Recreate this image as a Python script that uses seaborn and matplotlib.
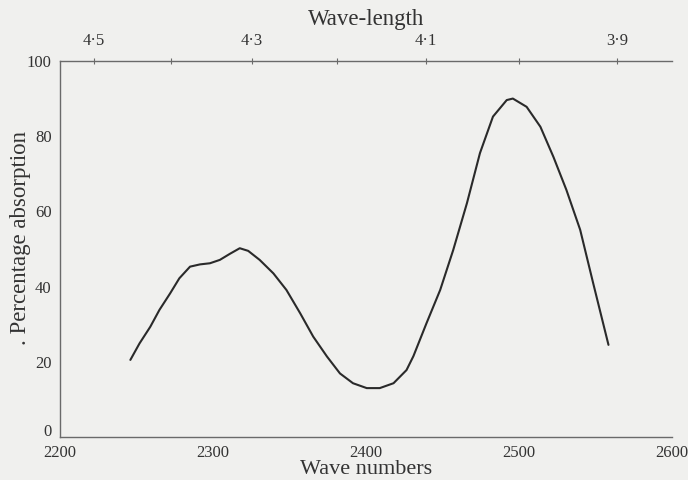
import numpy as np
import pandas as pd
import matplotlib
matplotlib.use("Agg")
import matplotlib.pyplot as plt
import matplotlib.transforms as mtransforms
import seaborn as sns
from matplotlib.ticker import FixedLocator, MultipleLocator

# Absorption band
wave_numbers = [2246, 2252, 2259, 2265, 2272, 2278, 2285, 2291.5, 2298,
                2304.5, 2311, 2317.5, 2323, 2330.5, 2339.5, 2348, 2357,
                2365.5, 2374.5, 2383, 2391.5, 2400.5, 2409, 2418, 2426.5,
                2431, 2439.5, 2448.5, 2457, 2466, 2474.5, 2483, 2492, 2496,
                2505, 2514, 2522.5, 2531, 2540, 2548.5, 2558.5]
absorption = [20.5, 24.9, 29.3, 33.8, 38.2, 42.2, 45.3, 45.9, 46.2,
              47.1, 48.7, 50.2, 49.5, 47.1, 43.5, 39.1, 32.9,
              26.7, 21.4, 16.9, 14.3, 13.0, 13.0, 14.3, 17.8,
              21.5, 30.2, 39.1, 49.7, 62.2, 75.5, 85.2, 89.6, 90.0,
              87.8, 82.5, 74.5, 65.7, 55.1, 40.9, 24.5]

x_ticks = [2200, 2300, 2400, 2500, 2600]
y_ticks = [0, 20, 40, 60, 80, 100]
wl_ticks = [4.5, 4.3, 4.1, 3.9]
wl_minor = [4.4, 4.2, 4.0]
wl_labels = ["4·5", "4·3", "4·1", "3·9"]

sns.set_theme(style="white")
plt.rcParams["font.family"] = ["Liberation Serif", "DejaVu Serif"]

bg = "#f0f0ee"
ink = "#2a2a2a"
axis_col = "#6a6a6a"
text_col = "#333333"

fig = plt.figure(figsize=(6.88, 4.8), dpi=100, facecolor=bg)
ax = fig.add_axes([0.0872, 0.0896, 0.8895, 0.7834], facecolor=bg)

df = pd.DataFrame({"wn": wave_numbers, "abs": absorption})
sns.lineplot(data=df, x="wn", y="abs", ax=ax, color=ink, linewidth=1.5,
             sort=False, solid_joinstyle="round", solid_capstyle="round")

ax.set_xlim(2200, 2600)
ax.set_ylim(0, 100)
ax.set_xticks(x_ticks)
ax.set_yticks(y_ticks)
ax.xaxis.set_minor_locator(MultipleLocator(50))
ax.yaxis.set_minor_locator(MultipleLocator(10))

for side in ("top", "right"):
    ax.spines[side].set_visible(False)
for side in ("left", "bottom"):
    ax.spines[side].set_color(axis_col)
    ax.spines[side].set_linewidth(1.0)

ax.tick_params(axis="both", which="both", direction="out", colors=axis_col,
               labelcolor=text_col, labelsize=12, width=0.8)
ax.tick_params(axis="both", which="major", length=4, pad=2)
ax.tick_params(axis="both", which="minor", length=4)

# lift the "0" so it sits on the axis line clear of the first x label
fig.canvas.draw()
zero_label = ax.yaxis.get_majorticklabels()[0]
zero_label.set_verticalalignment("bottom")
zero_label.set_transform(zero_label.get_transform() +
                         mtransforms.ScaledTranslation(0, -2 / 72,
                                                       fig.dpi_scale_trans))

ax.set_xlabel("Wave numbers", fontsize=16, color=text_col, labelpad=-1)
ax.set_ylabel(". Percentage absorption", fontsize=16.5, color=text_col)
ax.yaxis.set_label_coords(-0.048, 0.53)


def to_wavelength(x):
    x = np.asarray(x, dtype=float)
    with np.errstate(divide="ignore"):
        return np.where(x == 0, np.inf, 1e4 / np.where(x == 0, 1, x))


top = ax.secondary_xaxis("top", functions=(to_wavelength, to_wavelength))
top.xaxis.set_major_locator(FixedLocator(wl_ticks))
top.xaxis.set_minor_locator(FixedLocator(wl_minor))
top.set_xticklabels(wl_labels)
top.spines["top"].set_color(axis_col)
top.spines["top"].set_linewidth(1.0)
top.tick_params(axis="x", which="both", direction="inout", length=5,
                colors=axis_col, labelcolor=text_col, labelsize=12,
                width=0.8, pad=6)
top.set_xlabel("Wave-length", fontsize=16.5, color=text_col, labelpad=6)

fig.savefig("out.png", dpi=100, facecolor=bg)
